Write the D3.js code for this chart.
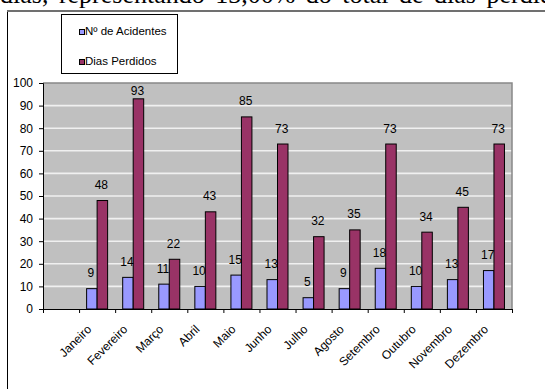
<!DOCTYPE html>
<html>
<head>
<meta charset="utf-8">
<script src="https://cdn.jsdelivr.net/npm/d3@7"></script>
<style>
  html, body { margin: 0; padding: 0; background: #fff; }
  svg { display: block; }
  .lbl { font-family: Arial, "Liberation Sans", sans-serif; font-size: 12px; fill: #000; }
  .leg { font-family: Arial, "Liberation Sans", sans-serif; font-size: 11.5px; fill: #000; }
</style>
</head>
<body>
<svg id="chart" width="545" height="389"></svg>
<script>
// Monthly accidents and lost days
const months = ["Janeiro", "Fevereiro", "Março", "Abril", "Maio", "Junho", "Julho",
                "Agosto", "Setembro", "Outubro", "Novembro", "Dezembro"];
const acidentes = [9, 14, 11, 10, 15, 13, 5, 9, 18, 10, 13, 17];
const diasPerdidos = [48, 93, 22, 43, 85, 73, 32, 35, 73, 34, 45, 73];
const seriesNames = ["Nº de Acidentes", "Dias Perdidos"];
const seriesColors = ["#9999ff", "#993366"];
const yTicks = [0, 10, 20, 30, 40, 50, 60, 70, 80, 90, 100];
const headerText = "dias, representando 13,00% do total de dias perdidos";

const svg = d3.select("#chart");

// Justified line of the surrounding document, running past the top edge
svg.append("text")
  .attr("x", 0).attr("y", 3)
  .attr("font-family", "'Liberation Serif', 'Times New Roman', serif")
  .attr("font-size", 26)
  .attr("word-spacing", 4)
  .attr("fill", "#000")
  .text(headerText);

// Chart frame
svg.append("line").attr("x1", 7).attr("x2", 545).attr("y1", 11).attr("y2", 11)
  .attr("stroke", "#707070").attr("stroke-width", 2);
svg.append("line").attr("x1", 7.5).attr("x2", 7.5).attr("y1", 12).attr("y2", 389)
  .attr("stroke", "#000").attr("stroke-width", 1);

const plot = { left: 43, right: 512, top: 83, bottom: 309 };

// One leading empty slot before January
const slots = [""].concat(months);
const x = d3.scaleBand().domain(slots).range([plot.left, plot.right]).padding(0);
const y = d3.scaleLinear().domain([0, 100]).range([plot.bottom, plot.top]);
const xs = d3.scaleBand().domain(seriesNames).range([-10.5, 10.5]).padding(0);

// Plot area
svg.append("rect")
  .attr("x", plot.left).attr("y", plot.top)
  .attr("width", plot.right - plot.left).attr("height", plot.bottom - plot.top)
  .attr("fill", "#c0c0c0");

// Gridlines
svg.append("g").selectAll("line")
  .data(yTicks.filter(d => d > 0 && d < 100))
  .join("line")
  .attr("x1", plot.left).attr("x2", plot.right)
  .attr("y1", d => y(d)).attr("y2", d => y(d))
  .attr("stroke", "#f0f0f0").attr("stroke-width", 1.6);

// Plot border (top and right)
svg.append("path")
  .attr("d", `M${plot.left},${plot.top}H${plot.right}V${plot.bottom}`)
  .attr("fill", "none").attr("stroke", "#888").attr("stroke-width", 1.5);

// Bars
const data = months.map((m, i) => ({ month: m, values: [acidentes[i], diasPerdidos[i]] }));
const groups = svg.append("g").selectAll("g")
  .data(data)
  .join("g")
  .attr("transform", d => `translate(${x(d.month) + x.bandwidth() / 2},0)`);

groups.selectAll("rect")
  .data(d => d.values.map((v, k) => ({ name: seriesNames[k], value: v, k })))
  .join("rect")
  .attr("x", d => xs(d.name))
  .attr("y", d => y(d.value))
  .attr("width", xs.bandwidth())
  .attr("height", d => y(0) - y(d.value))
  .attr("fill", d => seriesColors[d.k])
  .attr("stroke", "#000").attr("stroke-width", 1);

// Value labels
groups.selectAll("text")
  .data(d => d.values.map((v, k) => ({ name: seriesNames[k], value: v, k })))
  .join("text")
  .attr("class", "lbl")
  .attr("text-anchor", "middle")
  .attr("x", d => xs(d.name) + xs.bandwidth() / 2 - 1)
  .attr("y", d => Math.max(y(d.value) - 11.5, plot.top + 12))
  .text(d => d.value);

// Y axis
const yAxis = svg.append("g")
  .attr("transform", `translate(${plot.left},0)`)
  .call(d3.axisLeft(y).tickValues(yTicks).tickSize(4).tickPadding(6));
yAxis.attr("font-size", 12).attr("font-family", "Arial, 'Liberation Sans', sans-serif");
yAxis.select(".domain").attr("stroke", "#000");
yAxis.selectAll("text").attr("fill", "#000");

// X axis: tick marks at slot boundaries
const xb = d3.scaleLinear().domain([0, slots.length]).range([plot.left, plot.right]);
const xAxis = svg.append("g")
  .attr("transform", `translate(0,${plot.bottom})`)
  .call(d3.axisBottom(xb).tickValues(d3.range(slots.length + 1))
    .tickSize(4).tickSizeOuter(0).tickFormat(""));
xAxis.select(".domain").attr("stroke", "#000");

// X axis: rotated month labels at slot centres
const xLab = svg.append("g")
  .attr("transform", `translate(0,${plot.bottom})`)
  .call(d3.axisBottom(x).tickSize(0).tickFormat(d => d));
xLab.attr("font-size", 12).attr("font-family", "Arial, 'Liberation Sans', sans-serif");
xLab.select(".domain").remove();
xLab.selectAll(".tick text")
  .attr("fill", "#000")
  .attr("text-anchor", "end")
  .attr("x", 0).attr("y", 0).attr("dy", null)
  .attr("transform", "translate(-5,21) rotate(-45)");

// Legend
const legend = svg.append("g");
legend.append("rect")
  .attr("x", 61.5).attr("y", 14.5).attr("width", 116).attr("height", 59)
  .attr("fill", "#fff").attr("stroke", "#000").attr("stroke-width", 1);
const items = legend.selectAll("g.item")
  .data(seriesNames)
  .join("g")
  .attr("class", "item")
  .attr("transform", (d, i) => `translate(79,${29 + i * 30})`);
items.append("rect")
  .attr("x", 0.5).attr("y", 0.5).attr("width", 5).attr("height", 5)
  .attr("fill", (d, i) => seriesColors[i])
  .attr("stroke", "#000").attr("stroke-width", 1);
items.append("text")
  .attr("class", "leg")
  .attr("x", 6).attr("y", 6)
  .text(d => d);
</script>
</body>
</html>
